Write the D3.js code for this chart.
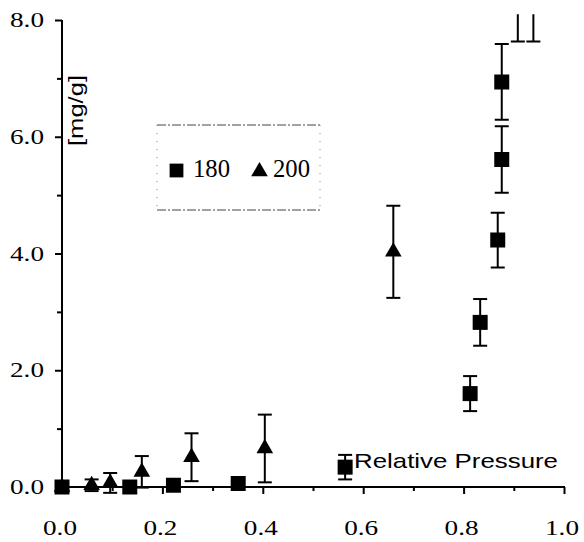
<!DOCTYPE html>
<html>
<head>
<meta charset="utf-8">
<script src="https://cdn.jsdelivr.net/npm/d3@7"></script>
<style>
  html, body { margin: 0; padding: 0; background: #fff; }
  svg { display: block; }
</style>
</head>
<body>
<svg id="chart" width="584" height="542"></svg>
<script>
// ---- data ----
const series180X   = [0.0, 0.135, 0.222, 0.351, 0.564, 0.813, 0.833, 0.868, 0.876, 0.876, 0.908, 0.939];
const series180Y   = [0.0, 0.0,   0.03,  0.06,  0.34,  1.6,   2.82,  4.23,  5.61,  6.94,  9.0,   9.0];
const series180Err = [0.0, 0.0,   0.0,   0.0,   0.21,  0.3,   0.4,   0.47,  0.57,  0.65,  1.37,  1.37];

const series200X   = [0.0, 0.059, 0.096, 0.159, 0.258, 0.404, 0.66];
const series200Y   = [0.0, 0.03,  0.07,  0.26,  0.51,  0.66,  4.03];
const series200Err = [0.0, 0.1,   0.17,  0.27,  0.41,  0.58,  0.79];

const xMajorTicks = [0.0, 0.2, 0.4, 0.6, 0.8, 1.0];
const xMinorTicks = [0.1, 0.3, 0.5, 0.7, 0.9];
const yMajorTicks = [0.0, 2.0, 4.0, 6.0, 8.0];
const yMinorTicks = [1.0, 3.0, 5.0, 7.0];
const legendLabels = ["180", "200"];
const xTitle = "Relative Pressure";
const yTitle = "[mg/g]";

// ---- layout ----
const svg = d3.select("#chart");
const x = d3.scaleLinear().domain([0, 1]).range([62, 564]);
const y = d3.scaleLinear().domain([0, 8]).range([487, 20]);
const serif = "'Liberation Serif', 'Times New Roman', serif";
const sans = "'Liberation Sans', Arial, sans-serif";

svg.append("defs").append("clipPath").attr("id", "clip")
  .append("rect")
  .attr("x", 0).attr("y", y(8.1))
  .attr("width", 584).attr("height", 542 - y(8.1));

// ---- axes ----
const yAxisMajor = d3.axisLeft(y).tickValues(yMajorTicks).tickSize(7).tickFormat("");
const yAxisMinor = d3.axisLeft(y).tickValues(yMinorTicks).tickSize(5).tickFormat("");
const xAxisMajor = d3.axisBottom(x).tickValues(xMajorTicks).tickSize(7).tickFormat("");
const xAxisMinor = d3.axisBottom(x).tickValues(xMinorTicks).tickSize(4).tickFormat("");

function styleAxis(g) {
  g.select(".domain").remove();
  g.selectAll(".tick line").attr("stroke", "#000").attr("stroke-width", 2);
}
svg.append("g").attr("transform", `translate(${x(0)},0)`).call(yAxisMajor).call(styleAxis);
svg.append("g").attr("transform", `translate(${x(0)},0)`).call(yAxisMinor).call(styleAxis);
svg.append("g").attr("transform", `translate(0,${y(0)})`).call(xAxisMajor).call(styleAxis);
svg.append("g").attr("transform", `translate(0,${y(0)})`).call(xAxisMinor).call(styleAxis);

// axis lines
svg.append("line")
  .attr("x1", x(0)).attr("x2", x(0)).attr("y1", y(0) + 1).attr("y2", y(8))
  .attr("stroke", "#000").attr("stroke-width", 2);
svg.append("line")
  .attr("x1", x(0) - 1).attr("x2", x(1) + 1).attr("y1", y(0)).attr("y2", y(0))
  .attr("stroke", "#000").attr("stroke-width", 2);

// tick labels
svg.append("g").selectAll("text").data(xMajorTicks).join("text")
  .attr("x", d => x(d) - 2).attr("y", y(0) + 48)
  .attr("text-anchor", "middle")
  .attr("font-family", serif).attr("font-size", 22)
  .attr("textLength", 34).attr("lengthAdjust", "spacingAndGlyphs")
  .text(d => d3.format(".1f")(d));

svg.append("g").selectAll("text").data(yMajorTicks).join("text")
  .attr("x", 44).attr("y", d => y(d) + 7)
  .attr("text-anchor", "end")
  .attr("font-family", serif).attr("font-size", 22)
  .attr("textLength", 34).attr("lengthAdjust", "spacingAndGlyphs")
  .text(d => d3.format(".1f")(d));

// axis titles
svg.append("text")
  .attr("x", 354).attr("y", 468)
  .attr("font-family", sans).attr("font-size", 21)
  .attr("textLength", 204).attr("lengthAdjust", "spacingAndGlyphs")
  .text(xTitle);

svg.append("text")
  .attr("transform", "translate(83,110.5) rotate(-90)")
  .attr("text-anchor", "middle")
  .attr("font-family", sans).attr("font-size", 21)
  .attr("textLength", 71).attr("lengthAdjust", "spacingAndGlyphs")
  .text(yTitle);

// ---- data marks ----
const plot = svg.append("g").attr("clip-path", "url(#clip)");
const capHalf = 7;

function drawSeries(xs, ys, errs, symbolType, size) {
  const pts = xs.map((v, i) => ({ x: v, y: ys[i], e: errs[i] }));
  const eb = plot.append("g").attr("stroke", "#000").attr("stroke-width", 2);
  pts.filter(p => p.e > 0).forEach(p => {
    eb.append("line").attr("x1", x(p.x)).attr("x2", x(p.x))
      .attr("y1", y(p.y - p.e)).attr("y2", y(p.y + p.e));
    eb.append("line").attr("x1", x(p.x) - capHalf).attr("x2", x(p.x) + capHalf)
      .attr("y1", y(p.y + p.e)).attr("y2", y(p.y + p.e));
    eb.append("line").attr("x1", x(p.x) - capHalf).attr("x2", x(p.x) + capHalf)
      .attr("y1", y(p.y - p.e)).attr("y2", y(p.y - p.e));
  });
  plot.append("g").selectAll("path").data(pts).join("path")
    .attr("transform", p => `translate(${x(p.x)},${y(p.y)})`)
    .attr("d", d3.symbol(symbolType, size))
    .attr("fill", "#000");
}
drawSeries(series180X, series180Y, series180Err, d3.symbolSquare, 225);
drawSeries(series200X, series200Y, series200Err, d3.symbolTriangle, 120);

// ---- legend ----
const lg = svg.append("g");
const lx0 = 157, ly0 = 125, lx1 = 320, ly1 = 210;
lg.append("line").attr("x1", lx0).attr("x2", lx1).attr("y1", ly0).attr("y2", ly0)
  .attr("stroke", "#444").attr("stroke-width", 1).attr("stroke-dasharray", "9,2,2,2");
lg.append("line").attr("x1", lx0).attr("x2", lx1).attr("y1", ly1).attr("y2", ly1)
  .attr("stroke", "#444").attr("stroke-width", 1).attr("stroke-dasharray", "9,2,2,2");
lg.append("line").attr("x1", lx0).attr("x2", lx0).attr("y1", ly0).attr("y2", ly1)
  .attr("stroke", "#888").attr("stroke-width", 1).attr("stroke-dasharray", "1,7");
lg.append("line").attr("x1", lx1).attr("x2", lx1).attr("y1", ly0).attr("y2", ly1)
  .attr("stroke", "#888").attr("stroke-width", 1).attr("stroke-dasharray", "1,7");

const legendSymbols = [d3.symbolSquare, d3.symbolTriangle];
const legendSizes = [190, 120];
const legendSymX = [176.5, 259.5];
const legendTextX = [193, 273];
legendLabels.forEach((lab, i) => {
  lg.append("path")
    .attr("transform", `translate(${legendSymX[i]},${i === 0 ? 170.5 : 171.5})`)
    .attr("d", d3.symbol(legendSymbols[i], legendSizes[i]))
    .attr("fill", "#000");
  lg.append("text")
    .attr("x", legendTextX[i]).attr("y", 176.5)
    .attr("font-family", serif).attr("font-size", 25)
    .attr("textLength", 37).attr("lengthAdjust", "spacingAndGlyphs")
    .text(lab);
});
</script>
</body>
</html>
